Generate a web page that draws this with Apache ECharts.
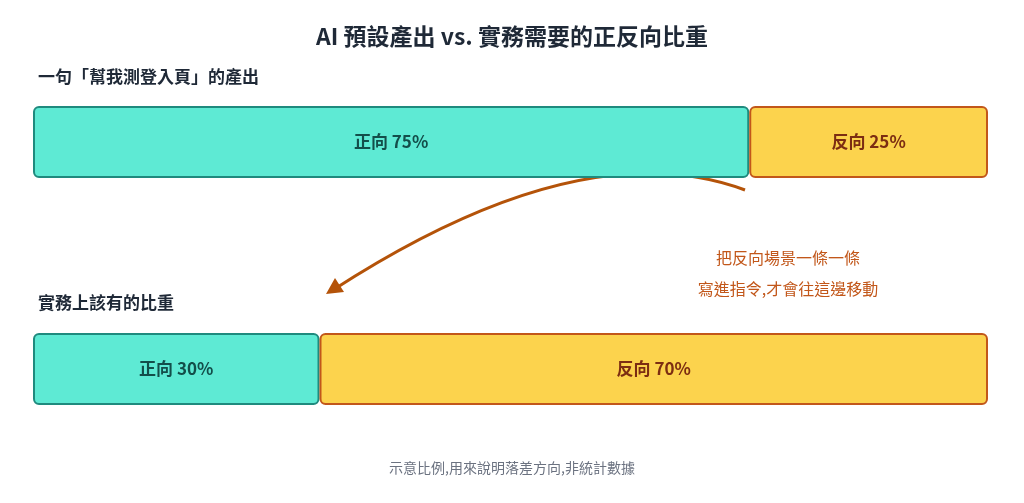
<!DOCTYPE html>
<html><head><meta charset="utf-8">
<script src="https://cdn.jsdelivr.net/npm/echarts@6/dist/echarts.min.js"></script>
<style>html,body{margin:0;padding:0;background:#fff}#c{width:1024px;height:503px}</style>
</head><body><div id="c"></div>
<script>
const rows = ['一句「幫我測登入頁」的產出', '實務上該有的比重'];
const positiveValues = [75, 30];
const negativeValues = [25, 70];
const positiveName = '正向';
const negativeName = '反向';
const titleText = 'AI 預設產出 vs. 實務需要的正反向比重';
const noteText = ['把反向場景一條一條', '寫進指令,才會往這邊移動'];
const footText = '示意比例,用來說明落差方向,非統計數據';

const F = '"Noto Sans CJK TC","Noto Sans",sans-serif';
const tops = [106, 333];
const grids = tops.map(t => ({left: 33, right: 36, top: t, height: 72}));
const xAxes = grids.map((g, i) => ({gridIndex: i, type: 'value', min: 0, max: 100, show: false}));
const yAxes = grids.map((g, i) => ({gridIndex: i, type: 'category', data: [rows[i]], show: false}));
const series = [];
rows.forEach((r, i) => {
  series.push({type: 'bar', xAxisIndex: i, yAxisIndex: i, stack: 's' + i, barWidth: 72,
    data: [positiveValues[i]],
    itemStyle: {color: '#5eead4', borderColor: '#1f8a7e', borderWidth: 2, borderRadius: 5},
    label: {show: true, formatter: p => positiveName + ' ' + p.value + '%', color: '#134e4a', fontSize: 17, fontWeight: 'bold', fontFamily: F}});
  series.push({type: 'bar', xAxisIndex: i, yAxisIndex: i, stack: 's' + i, barWidth: 72,
    data: [negativeValues[i]],
    itemStyle: {color: '#fcd34d', borderColor: '#c2571a', borderWidth: 2, borderRadius: 5},
    label: {show: true, formatter: p => negativeName + ' ' + p.value + '%', color: '#7c2d12', fontSize: 17, fontWeight: 'bold', fontFamily: F}});
});
const chart = echarts.init(document.getElementById('c'));
chart.setOption({
  animation: false,
  title: [
    {text: titleText, left: 'center', top: 20, textStyle: {fontSize: 23, fontWeight: 'bold', color: '#1f2937', fontFamily: F}},
    {text: rows[0], left: 33, top: 63, textStyle: {fontSize: 17, fontWeight: 'bold', color: '#1f2937', fontFamily: F}},
    {text: rows[1], left: 33, top: 289, textStyle: {fontSize: 17, fontWeight: 'bold', color: '#1f2937', fontFamily: F}},
    {text: footText, left: 'center', top: 456, textStyle: {fontSize: 14, fontWeight: 'normal', color: '#6b7280', fontFamily: F}}
  ],
  grid: grids, xAxis: xAxes, yAxis: yAxes, series: series,
  graphic: [
    {type: 'bezierCurve', shape: {x1: 745, y1: 190, x2: 333, y2: 290, cpx1: 582, cpy1: 129},
      style: {stroke: '#b45309', lineWidth: 3, fill: null}},
    {type: 'polygon', shape: {points: [[326, 294], [344, 292], [335, 278]]}, style: {fill: '#b45309'}},
    {type: 'text', x: 788, y: 258, style: {text: noteText[0], fill: '#c2571a', font: '16px ' + F, align: 'center', verticalAlign: 'middle'}},
    {type: 'text', x: 788, y: 289, style: {text: noteText[1], fill: '#c2571a', font: '16px ' + F, align: 'center', verticalAlign: 'middle'}}
  ]
});
</script></body></html>
